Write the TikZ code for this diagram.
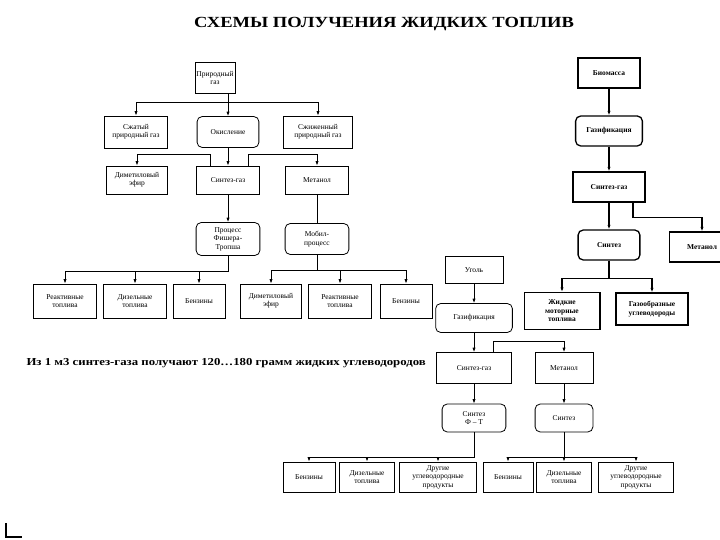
\documentclass[tikz,border=0pt]{standalone}
\usepackage{fontspec}
\setmainfont{Liberation Serif}
\newfontfamily\widefont[FakeStretch=1.2]{Liberation Serif}
\usetikzlibrary{arrows.meta,positioning,calc}
\tikzset{
  box/.style={draw,line width=0.8pt,inner sep=1pt,align=center,
    font=\fontsize{7.5}{8.5}\selectfont},
  rbox/.style={box,rounded corners=5pt},
  bbox/.style={box,line width=1.3pt,font=\fontsize{7.5}{8.5}\selectfont\bfseries},
  rbbox/.style={bbox,rounded corners=5pt},
  wh/.style 2 args={minimum width=#1,minimum height=#2},
  ar/.style={-{Latex[length=4.5pt,width=3.2pt]}},
  ln/.style={line width=0.8pt},
  bln/.style={line width=1.2pt},
}

\begin{document}
\begin{tikzpicture}[x=1bp,y=-1bp]
  \useasboundingbox (0,0) rectangle (720,540);
  \node[font=\widefont\bfseries\fontsize{15.5}{18}\selectfont] (title) at (384,24)
     {СХЕМЫ ПОЛУЧЕНИЯ ЖИДКИХ ТОПЛИВ};

  % natural gas
  \node[box,wh={40}{31}]  (gas)   at (215,78)  {Природный\\газ};
  \node[box,wh={64}{32}]  (comp)  at (136,132) {Сжатый\\природный газ};
  \node[rbox,wh={62}{31}] (oxid)  at (228,132) {Окисление};
  \node[box,wh={70}{32}]  (liq)   at (318,132) {Сжиженный\\природный газ};
  \node[box,wh={61}{28}]  (dme1)  at (137,180) {Диметиловый\\эфир};
  \node[box,wh={63}{28}]  (syn1)  at (228,180) {Синтез-газ};
  \node[box,wh={64}{28}]  (met1)  at (317,180) {Метанол};
  \node[rbox,wh={64}{33}] (fisch) at (228,239) {Процесс\\Фишера-\\Тропша};
  \node[rbox,wh={64}{31}] (mobil) at (317,239) {Мобил-\\процесс};
  \node[box,wh={64}{34}]  (rt1)   at (65,301)  {Реактивные\\топлива};
  \node[box,wh={64}{34}]  (dt1)   at (135,301) {Дизельные\\топлива};
  \node[box,wh={52}{34}]  (bz1)   at (199,301) {Бензины};
  \node[box,wh={61}{34}]  (dme2)  at (271,301) {Диметиловый\\эфир};
  \node[box,wh={64}{34}]  (rt2)   at (340,301) {Реактивные\\топлива};
  \node[box,wh={52}{34}]  (bz2)   at (406,301) {Бензины};

  \draw[ln,ar] (gas.south -| oxid.north) -- (oxid.north);
  \draw[ln,ar] (gas.south -| oxid.north) -- ++(0,9) -| (comp.north);
  \draw[ln,ar] (gas.south -| oxid.north) -- ++(0,9) -| (liq.north);
  \draw[ln,ar] (oxid.south) -- (syn1.north);
  \draw[ln,ar] ([xshift=-18pt]syn1.north) -- ++(0,-11) -| (dme1.north);
  \draw[ln,ar] ([xshift=20pt]syn1.north) -- ++(0,-11) -| (met1.north);
  \draw[ln,ar] (syn1.south) -- (fisch.north);
  \draw[ln] (met1.south) -- (mobil.north);
  \draw[ln,ar] (fisch.south) -- ++(0,16) -| (rt1.north);
  \draw[ln,ar] (fisch.south) -- ++(0,16) -| (dt1.north);
  \draw[ln,ar] (fisch.south) -- ++(0,16) -| (bz1.north);
  \draw[ln,ar] (mobil.south) -- ++(0,16) -| (dme2.north);
  \draw[ln,ar] (mobil.south) -- ++(0,16) -| (rt2.north);
  \draw[ln,ar] (mobil.south) -- ++(0,16) -| (bz2.north);

  \node[font=\widefont\bfseries\fontsize{10.7}{13}\selectfont,anchor=west] (note)
     at (23,363) {Из 1 м3 синтез-газа получают 120…180 грамм жидких углеводородов};

  % biomass
  \node[bbox,wh={62}{30}]  (bio)  at (609,73)  {Биомасса};
  \node[rbbox,wh={67}{30}] (gaz3) at (609,131) {Газификация};
  \node[bbox,wh={72}{30}]  (syn4) at (609,187) {Синтез-газ};
  \node[rbbox,wh={62}{30}] (synb) at (609,245) {Синтез};
  \node[bbox,wh={65}{30}]  (met3) at (702,247) {Метанол};
  \node[bbox,wh={76}{37}]  (liq4) at (562,311) {Жидкие\\моторные\\топлива};
  \node[bbox,wh={72}{32}]  (gasf) at (652,309) {Газообразные\\углеводороды};

  \draw[bln,ar] (bio.south) -- (gaz3.north);
  \draw[bln,ar] (gaz3.south) -- (syn4.north);
  \draw[bln,ar] (syn4.south) -- (synb.north);
  \draw[bln,ar] ([xshift=24pt]syn4.south) -- ++(0,15) -| (met3.north);
  \draw[bln,ar] (synb.south) -- ++(0,18) -| (liq4.north);
  \draw[bln,ar] (synb.south) -- ++(0,18) -| (gasf.north);

  % coal
  \node[box,wh={58}{27}]  (coal) at (474,270) {Уголь};
  \node[rbox,wh={77}{29}] (gaz2) at (474,318) {Газификация};
  \node[box,wh={76}{31}]  (syn2) at (474,368) {Синтез-газ};
  \node[box,wh={58}{31}]  (met2) at (564,368) {Метанол};
  \node[rbox,wh={64}{28}] (ft)   at (474,418) {Синтез\\Ф – Т};
  \node[rbox,wh={58}{28}] (syn3) at (564,418) {Синтез};
  \node[box,wh={52}{30}]  (bz3)  at (309,477) {Бензины};
  \node[box,wh={55}{30}]  (dt3)  at (367,477) {Дизельные\\топлива};
  \node[box,wh={77}{30}]  (dr3)  at (438,477) {Другие\\углеводородные\\продукты};
  \node[box,wh={50}{30}]  (bz4)  at (508,477) {Бензины};
  \node[box,wh={55}{30}]  (dt4)  at (564,477) {Дизельные\\топлива};
  \node[box,wh={75}{30}]  (dr4)  at (636,477) {Другие\\углеводородные\\продукты};

  \draw[ln,ar] (coal.south) -- (gaz2.north);
  \draw[ln,ar] (gaz2.south) -- (syn2.north);
  \draw[ln,ar] ([xshift=19pt]syn2.north) -- ++(0,-11) -| (met2.north);
  \draw[ln,ar] (syn2.south) -- (ft.north);
  \draw[ln,ar] (met2.south) -- (syn3.north);
  \draw[ln,ar] (ft.south) -- ++(0,25) -| (bz3.north);
  \draw[ln,ar] (ft.south) -- ++(0,25) -| (dt3.north);
  \draw[ln,ar] (ft.south) -- ++(0,25) -| (dr3.north);
  \draw[ln,ar] (syn3.south) -- ++(0,25) -| (bz4.north);
  \draw[ln,ar] (syn3.south) -- ++(0,25) -| (dt4.north);
  \draw[ln,ar] (syn3.south) -- ++(0,25) -| (dr4.north);

  \draw[line width=1.6pt] (6,523) -- (6,537) -- (22,537);
\end{tikzpicture}
\end{document}
